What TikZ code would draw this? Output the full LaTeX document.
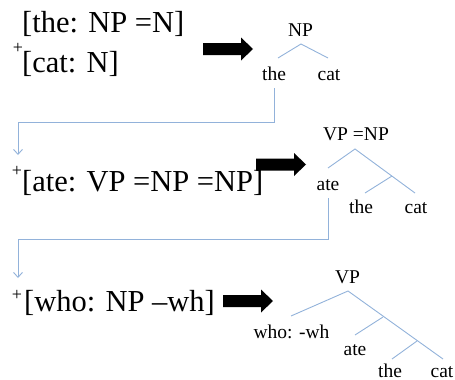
\documentclass[tikz,border=0pt]{standalone}
\usepackage{fontspec}
\setmainfont{Liberation Serif}
\usetikzlibrary{arrows.meta}
\definecolor{treeblue}{RGB}{146,178,218}
\tikzset{
  big/.style={font=\fontsize{30.5}{33}\selectfont, inner sep=0pt, anchor=base west},
  small/.style={font=\fontsize{19.5}{22}\selectfont, inner sep=0pt, anchor=base},
  plus/.style={font=\fontsize{18}{19}\selectfont, inner sep=0pt},
  branch/.style={draw=treeblue, line width=0.9pt},
  conn/.style={draw=treeblue, line width=0.9pt, -{Straight Barb[length=5pt,width=9pt]}},
  blockarrow/.pic={\fill[black] (0,-6) -- (38,-6) -- (38,-11.5) -- (50,0) -- (38,11.5) -- (38,6) -- (0,6) -- cycle;}
}
\begin{document}
\begin{tikzpicture}[x=1pt,y=-1pt]
\useasboundingbox (0,0) rectangle (455,380);
% ---- row 1
\node[big] (r1a) at (22,32.5) {[the: NP =N]};
\node[plus] (p1) at (18,48) {+};
\node[big] (r1b) at (22,72) {[cat: N]};
\pic at (203,49) {blockarrow};
\node[small] (np1) at (300.5,36) {NP};
\node[small] (the1) at (274,80) {the};
\node[small] (cat1) at (329,80) {cat};
\coordinate (a1) at (301,44);
\coordinate (l1) at (278,58);
\coordinate (rr1) at (328,58);
\draw[branch] (l1) -- (a1) -- (rr1);
\coordinate (t1) at (274,88);
\coordinate (k1) at (18,155);
\draw[conn] (t1) -- (274,122) -| (k1);
% ---- row 2
\node[plus] (p2) at (17,171) {+};
\node[big] (r2) at (22,191.5) {[ate: VP =NP =NP]};
\pic at (256,164.5) {blockarrow};
\node[small] (vp2) at (356,140) {VP =NP};
\node[small] (ate2) at (328,190) {ate};
\node[small] (the2) at (361,213) {the};
\node[small] (cat2) at (416,213) {cat};
\coordinate (a2) at (355,149);
\coordinate (l2) at (328,168);
\coordinate (rr2) at (415,193);
\coordinate (m2) at (392,176);
\coordinate (ml2) at (365,193);
\draw[branch] (l2) -- (a2) -- (rr2);
\draw[branch] (m2) -- (ml2);
\coordinate (t2) at (328,198);
\coordinate (k2) at (18,278);
\draw[conn] (t2) -- (328,239) -| (k2);
% ---- row 3
\node[plus] (p3) at (17,295) {+};
\node[big] (r3) at (24,311) {[who: NP --wh]};
\pic at (223,301) {blockarrow};
\node[small] (vp3) at (347.5,283) {VP};
\node[small] (who3) at (291.5,338) {who: -wh};
\node[small] (ate3) at (355,355) {ate};
\node[small] (the3) at (390,377) {the};
\node[small] (cat3) at (442,377) {cat};
\coordinate (a3) at (348,291);
\coordinate (l3) at (291,316);
\coordinate (rr3) at (443,359);
\coordinate (m3a) at (383,317);
\coordinate (m3al) at (355,335);
\coordinate (m3b) at (417,341);
\coordinate (m3bl) at (392,359);
\draw[branch] (l3) -- (a3) -- (rr3);
\draw[branch] (m3a) -- (m3al);
\draw[branch] (m3b) -- (m3bl);
\end{tikzpicture}
\end{document}
